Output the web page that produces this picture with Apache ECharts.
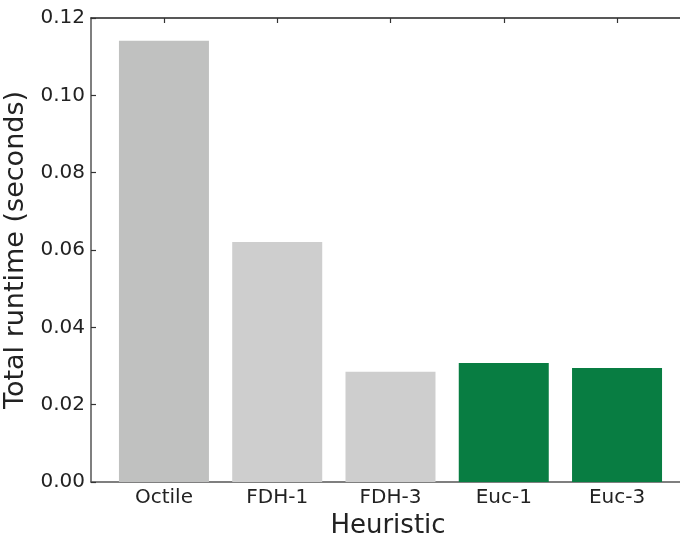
<!DOCTYPE html>
<html>
<head>
<meta charset="utf-8">
<script src="https://cdn.jsdelivr.net/npm/echarts@6/dist/echarts.min.js"></script>
<style>
html,body{margin:0;padding:0;background:#fff;}
#chart{width:680px;height:534px;}
</style>
</head>
<body>
<div id="chart"></div>
<script>
const categories = ['Octile', 'FDH-1', 'FDH-3', 'Euc-1', 'Euc-3'];
const runtimes = [0.1141, 0.0621, 0.0285, 0.0308, 0.0295];
const barColors = ['#c0c1c0', '#cecece', '#cecece', '#087d42', '#087d42'];
const yTickLabels = ['0.00', '0.02', '0.04', '0.06', '0.08', '0.10', '0.12'];
const positions = categories.map((c, i) => i);

const FONT = 'DejaVu Sans';
const chart = echarts.init(document.getElementById('chart'), null, {renderer: 'canvas'});
const tickStyle = {show: true, inside: true, length: 5, lineStyle: {color: '#333', width: 1.2}};

chart.setOption({
  animation: false,
  backgroundColor: '#fff',
  grid: {left: 91, top: 18, bottom: 52, width: 594, containLabel: false, outerBoundsMode: 'none'},
  xAxis: [{
    type: 'value', min: -0.644, max: 4.6, position: 'bottom',
    name: 'Heuristic', nameLocation: 'middle', nameGap: 22,
    nameTextStyle: {fontFamily: FONT, fontSize: 26, color: '#222'},
    axisLine: {show: true, onZero: false, lineStyle: {color: '#555', width: 1.5}},
    axisTick: Object.assign({customValues: positions}, tickStyle),
    axisLabel: {customValues: positions, formatter: v => categories[Math.round(v)],
      fontFamily: FONT, fontSize: 20, color: '#222', margin: 6},
    splitLine: {show: false}
  }, {
    type: 'value', min: -0.644, max: 4.6, position: 'top',
    axisLine: {show: true, onZero: false, lineStyle: {color: '#222', width: 1.5}},
    axisTick: Object.assign({customValues: positions}, tickStyle),
    axisLabel: {show: false},
    splitLine: {show: false}
  }],
  yAxis: [{
    type: 'value', min: 0, max: 0.12, interval: 0.02, position: 'left',
    name: 'Total runtime (seconds)', nameLocation: 'middle', nameGap: 57,
    nameTextStyle: {fontFamily: FONT, fontSize: 27, color: '#222'},
    axisLine: {show: true, onZero: false, lineStyle: {color: '#555', width: 1.5}},
    axisTick: tickStyle,
    axisLabel: {formatter: v => yTickLabels[Math.round(v / 0.02)],
      fontFamily: FONT, fontSize: 20, color: '#222', margin: 6},
    splitLine: {show: false}
  }, {
    type: 'value', min: 0, max: 0.12, interval: 0.02, position: 'right',
    axisLine: {show: true, onZero: false, lineStyle: {color: '#222', width: 1.5}},
    axisTick: tickStyle,
    axisLabel: {show: false},
    splitLine: {show: false}
  }],
  series: [{
    type: 'bar',
    xAxisIndex: 0, yAxisIndex: 0,
    barWidth: 90,
    data: categories.map((c, i) => ({value: [i, runtimes[i]], itemStyle: {color: barColors[i]}}))
  }]
});
</script>
</body>
</html>
